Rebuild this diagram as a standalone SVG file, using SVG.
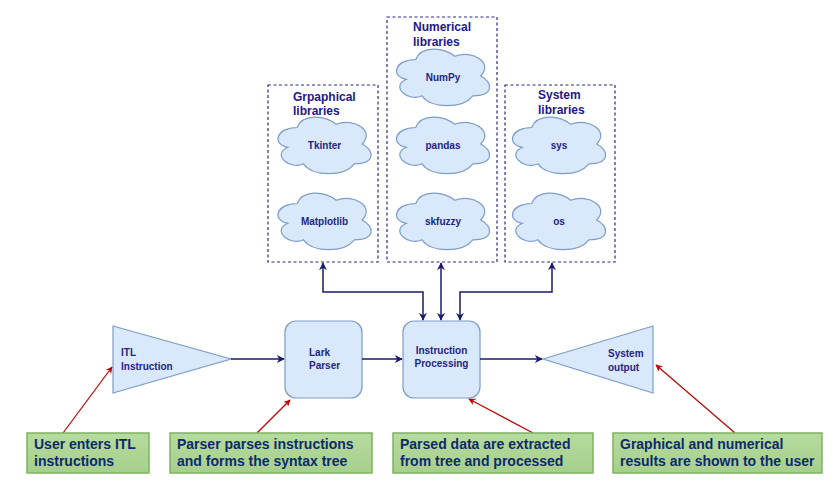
<svg xmlns="http://www.w3.org/2000/svg" xmlns:xlink="http://www.w3.org/1999/xlink" width="835" height="482" viewBox="0 0 835 482">
<style>
.cont{fill:none;stroke:#2a2a8c;stroke-width:1.2;stroke-dasharray:3 2.5}
.title{font-family:"Liberation Sans",Arial,sans-serif;font-weight:bold;font-size:12px;fill:#22188a}
.cloud{fill:#dae8fc;stroke:#7c9cc9;stroke-width:1.2}
.ct{font-family:"Liberation Sans",Arial,sans-serif;font-weight:bold;font-size:10px;fill:#24248a;text-anchor:middle}
.box{fill:#dae8fc;stroke:#7c9cc9;stroke-width:1.2}
.nt{font-family:"Liberation Sans",Arial,sans-serif;font-weight:bold;font-size:10px;fill:#24248a}
.conn{fill:none;stroke:#1a1a6e;stroke-width:1.5}
.note{fill:url(#greenGrad);stroke:#7fb35f;stroke-width:1.5}
.gt{font-family:"Liberation Sans",Arial,sans-serif;font-weight:bold;font-size:14px;fill:#0e2a6a}
.red{fill:none;stroke:#c00000;stroke-width:1.2}
</style>
<defs>
<linearGradient id="greenGrad" x1="0" y1="0" x2="0" y2="1">
<stop offset="0" stop-color="#b6db9f"/>
<stop offset="1" stop-color="#a6cf8b"/>
</linearGradient>
<path id="cloudShape" d="M-26,-16.5 C-46.8,-16.5 -52,0 -35.36,3.3 C-52,10.56 -33.28,26.4 -19.76,19.8 C-10.4,33 20.8,33 31.2,19.8 C52,19.8 52,6.6 39,0 C52,-13.2 31.2,-26.4 13,-19.8 C0,-29.7 -20.8,-29.7 -26,-16.5 Z"/>
<marker id="arr" viewBox="0 0 10 10" refX="9" refY="5" markerWidth="8" markerHeight="8" markerUnits="userSpaceOnUse" orient="auto-start-reverse">
<path d="M0,0 L10,5 L0,10 L3,5 Z" fill="#1a1a6e"/>
</marker>
<marker id="rarr" viewBox="0 0 10 10" refX="9" refY="5" markerWidth="7" markerHeight="7" markerUnits="userSpaceOnUse" orient="auto">
<path d="M0,0 L10,5 L0,10 L3,5 Z" fill="#c00000"/>
</marker>
</defs>
<rect width="835" height="482" fill="#ffffff"/>

<g id="graphical-libraries">
<rect class="cont" x="268" y="85" width="110" height="177"/>
<text class="title" x="293" y="101">Grpaphical</text>
<text class="title" x="293" y="115">libraries</text>
</g>
<g id="numerical-libraries">
<rect class="cont" x="387" y="17" width="110" height="245"/>
<text class="title" x="413" y="31">Numerical</text>
<text class="title" x="413" y="46">libraries</text>
</g>
<g id="system-libraries">
<rect class="cont" x="505" y="85" width="110" height="177"/>
<text class="title" x="538" y="99">System</text>
<text class="title" x="538" y="114">libraries</text>
</g>

<g id="tkinter"><use xlink:href="#cloudShape" class="cloud" transform="translate(323.2,144)"/><text class="ct" x="324.5" y="149">Tkinter</text></g>
<g id="matplotlib"><use xlink:href="#cloudShape" class="cloud" transform="translate(323.2,220)"/><text class="ct" x="324.5" y="225">Matplotlib</text></g>
<g id="numpy"><use xlink:href="#cloudShape" class="cloud" transform="translate(441.7,76)"/><text class="ct" x="443" y="81">NumPy</text></g>
<g id="pandas"><use xlink:href="#cloudShape" class="cloud" transform="translate(441.7,144)"/><text class="ct" x="443" y="149">pandas</text></g>
<g id="skfuzzy"><use xlink:href="#cloudShape" class="cloud" transform="translate(441.7,220)"/><text class="ct" x="443" y="225">skfuzzy</text></g>
<g id="sys"><use xlink:href="#cloudShape" class="cloud" transform="translate(557.7,144)"/><text class="ct" x="559" y="149">sys</text></g>
<g id="os"><use xlink:href="#cloudShape" class="cloud" transform="translate(557.7,220)"/><text class="ct" x="559" y="225">os</text></g>

<g id="itl-instruction">
<polygon class="box" points="113,326 231,359 113,393"/>
<text class="nt" x="121" y="356">ITL</text>
<text class="nt" x="121" y="370">Instruction</text>
</g>
<g id="lark-parser">
<rect class="box" x="285" y="321" width="77" height="77" rx="11"/>
<text class="nt" x="309" y="356">Lark</text>
<text class="nt" x="309" y="369">Parser</text>
</g>
<g id="instruction-processing">
<rect class="box" x="403" y="321" width="77" height="77" rx="11"/>
<text class="nt" x="441.5" y="354" text-anchor="middle">Instruction</text>
<text class="nt" x="441.5" y="367" text-anchor="middle">Processing</text>
</g>
<g id="system-output">
<polygon class="box" points="543,359 653,326 653,393"/>
<text class="nt" x="608" y="357">System</text>
<text class="nt" x="608" y="371">output</text>
</g>

<g id="connectors">
<path class="conn" d="M231,359 L284,359" marker-end="url(#arr)"/>
<path class="conn" d="M362,359 L402,359" marker-end="url(#arr)"/>
<path class="conn" d="M480,359 L542,359" marker-end="url(#arr)"/>
<path class="conn" d="M423,320 L423,292 L323,292 L323,263" marker-start="url(#arr)" marker-end="url(#arr)"/>
<path class="conn" d="M441,320 L441,263" marker-start="url(#arr)" marker-end="url(#arr)"/>
<path class="conn" d="M460,320 L460,292 L552,292 L552,263" marker-start="url(#arr)" marker-end="url(#arr)"/>
<path class="red" d="M63,433 L112,367" marker-end="url(#rarr)"/>
<path class="red" d="M257,433 L290,400" marker-end="url(#rarr)"/>
<path class="red" d="M533,433 L469,399" marker-end="url(#rarr)"/>
<path class="red" d="M735,433 L656,365" marker-end="url(#rarr)"/>
</g>

<g id="note-user">
<rect class="note" x="27" y="433" width="122" height="40"/>
<text class="gt" x="34" y="449">User enters ITL</text>
<text class="gt" x="34" y="466">instructions</text>
</g>
<g id="note-parser">
<rect class="note" x="170" y="433" width="202" height="40"/>
<text class="gt" x="177" y="449">Parser parses instructions</text>
<text class="gt" x="177" y="466">and forms the syntax tree</text>
</g>
<g id="note-processing">
<rect class="note" x="393" y="433" width="200" height="40"/>
<text class="gt" x="400" y="449">Parsed data are extracted</text>
<text class="gt" x="400" y="466">from tree and processed</text>
</g>
<g id="note-results">
<rect class="note" x="613" y="433" width="209" height="40"/>
<text class="gt" x="620" y="449">Graphical and numerical</text>
<text class="gt" x="620" y="466">results are shown to the user</text>
</g>
</svg>
